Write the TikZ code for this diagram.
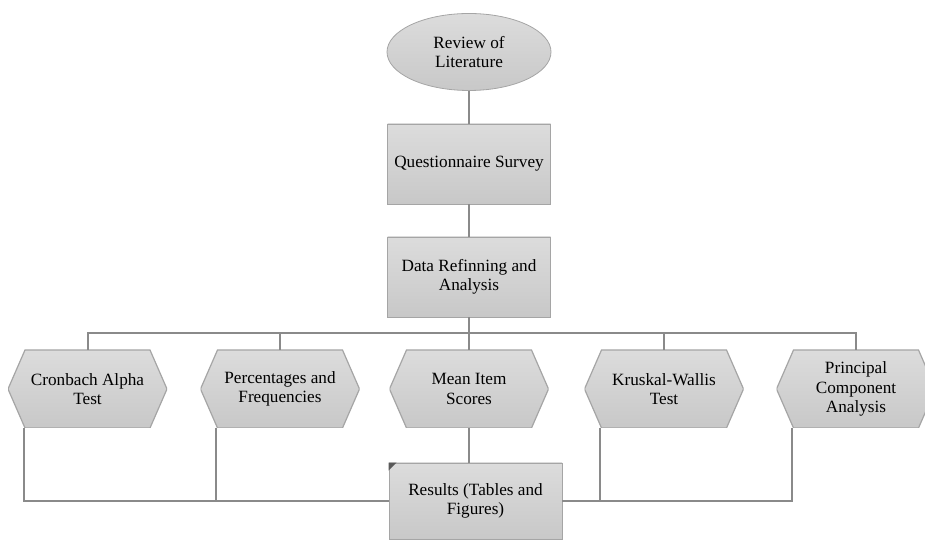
\documentclass[tikz,border=0pt]{standalone}
\usepackage{fontspec}
\setmainfont{Liberation Serif}
\usetikzlibrary{shapes.geometric}
\definecolor{topgray}{RGB}{220,220,220}
\definecolor{botgray}{RGB}{200,200,200}
\definecolor{edgegray}{RGB}{165,165,165}
\definecolor{linegray}{RGB}{138,138,138}
\tikzset{
  lbl/.style={align=center, font=\fontsize{17.2}{19.5}\selectfont, text=black},
  boxnode/.style={lbl, rectangle, draw=edgegray, line width=0.8pt,
    top color=topgray, bottom color=botgray, minimum width=163pt, minimum height=80pt, inner sep=0pt},
  ovalnode/.style={lbl, ellipse, draw=edgegray, line width=0.8pt,
    top color=topgray, bottom color=botgray, minimum width=164pt, minimum height=77pt, inner sep=0pt},
  hexnode/.style={lbl, rectangle, minimum width=159pt, minimum height=78pt, inner sep=0pt,
    path picture={
      \shade[top color=topgray, bottom color=botgray, draw=edgegray, line width=1.2pt]
        ([xshift=17pt]path picture bounding box.north west) --
        ([xshift=-17pt]path picture bounding box.north east) --
        (path picture bounding box.east) --
        ([xshift=-17pt]path picture bounding box.south east) --
        ([xshift=17pt]path picture bounding box.south west) --
        (path picture bounding box.west) -- cycle;
    }},
  conn/.style={draw=linegray, line width=2pt},
}
\begin{document}
\begin{tikzpicture}[x=1pt,y=1pt]
\useasboundingbox (0,0) rectangle (925,540);

\node[ovalnode] (rev) at (469,488) {Review of\\Literature};
\node[boxnode] (qs) at (469,376) {Questionnaire Survey};
\node[boxnode] (dra) at (469,263) {Data Refinning and\\Analysis};

\node[hexnode] (cron) at (87.5,151) {Cronbach Alpha\\Test};
\node[hexnode] (perc) at (280,151) {Percentages and\\Frequencies};
\node[hexnode] (mis) at (469,151) {Mean Item\\Scores};
\node[hexnode] (krus) at (664,151) {Kruskal-Wallis\\Test};
\node[hexnode] (pca) at (856,151) {Principal\\Component\\Analysis};

\node[boxnode, minimum width=173pt, minimum height=76pt] (res) at (475.5,39) {Results (Tables and\\Figures)};
\fill[gray!70!black] (res.north west) -- ++(8,0) -- ++(-8,-8) -- cycle;

\coordinate (bus) at (469,207);
\coordinate (cronbl) at ([xshift=16pt]cron.south west);
\coordinate (percbl) at ([xshift=16pt]perc.south west);
\coordinate (krusbl) at ([xshift=16pt]krus.south west);
\coordinate (pcabl) at ([xshift=16pt]pca.south west);

\draw[conn] (rev.south) -- (qs.north);
\draw[conn] (qs.south) -- (dra.north);
\draw[conn] (dra.south) -- (mis.north);
\draw[conn] (cron.north) |- (bus) -| (pca.north);
\draw[conn] (perc.north) -- (perc.north |- bus);
\draw[conn] (krus.north) -- (krus.north |- bus);

\draw[conn] (mis.south) -- (mis.south |- res.north);
\draw[conn] (cronbl) |- (res.west);
\draw[conn] (percbl) -- (percbl |- res.west);
\draw[conn] (pcabl) |- (res.east);
\draw[conn] (krusbl) -- (krusbl |- res.east);
\end{tikzpicture}
\end{document}
